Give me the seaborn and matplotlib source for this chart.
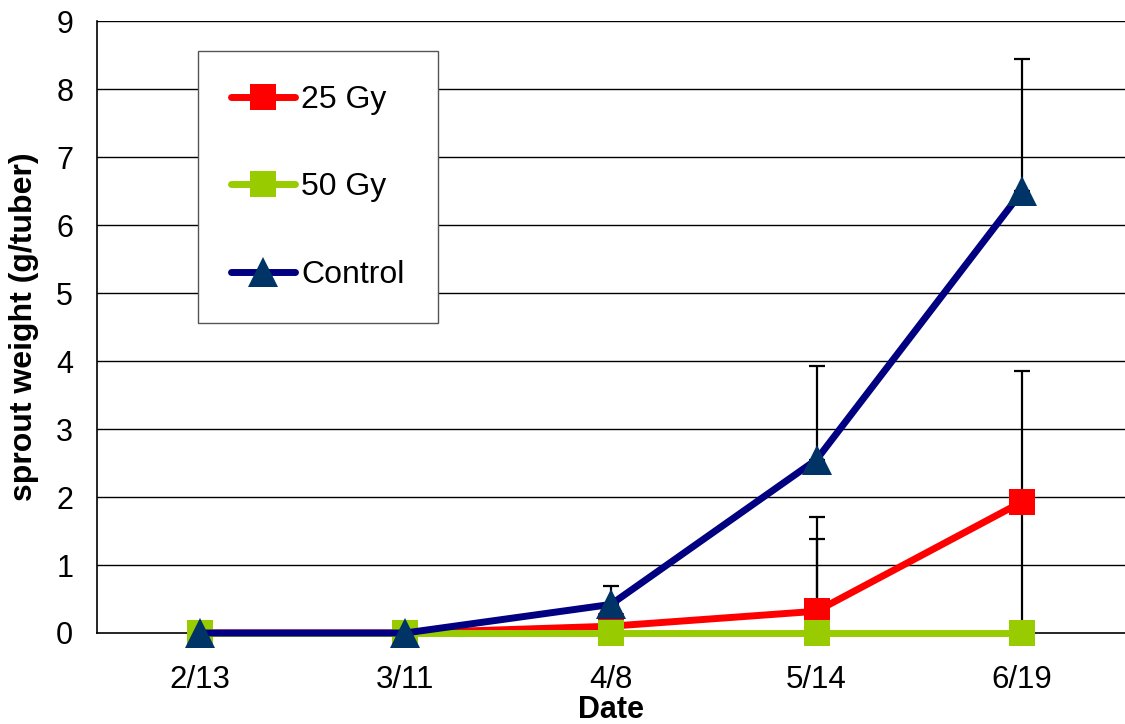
import numpy as np
import pandas as pd
import matplotlib
matplotlib.use('Agg')
import matplotlib.pyplot as plt
import seaborn as sns

dates = ['2/13', '3/11', '4/8', '5/14', '6/19']
gy25 = [0, 0, 0.1, 0.32, 1.93]
gy50 = [0, 0, 0, 0, 0]
control = [0, 0, 0.42, 2.55, 6.5]
# upward error bars only
gy25_err = [0, 0, 0, 1.38, 1.93]
gy50_err = [0, 0, 0, 1.38, 1.93]
control_err = [0, 0, 0.27, 1.38, 1.94]

sns.set_style('white')
plt.rcParams['font.family'] = ['Liberation Sans', 'DejaVu Sans']
plt.rcParams['text.color'] = 'black'
plt.rcParams['xtick.color'] = 'black'
plt.rcParams['ytick.color'] = 'black'
plt.rcParams['axes.labelcolor'] = 'black'

x = np.arange(len(dates))
df = pd.DataFrame({'x': x, 'g25': gy25, 'g50': gy50, 'ctl': control})

fig = plt.figure(figsize=(11.25, 7.24), dpi=100)
ax = fig.add_axes([0.086, 0.1257, 0.914, 0.845])

for yy in range(1, 10):
    ax.axhline(yy, color='black', lw=1, zorder=1)

for vals, err in [(gy50, gy50_err), (gy25, gy25_err), (control, control_err)]:
    ax.errorbar(x, vals, yerr=[np.zeros(5), err], fmt='none', ecolor='black',
                elinewidth=1.6, capsize=6, capthick=1.6, zorder=2)

sns.lineplot(data=df, x='x', y='g25', ax=ax, color='#FF0000', lw=5, marker='s',
             markersize=19, markeredgewidth=0, label='25 Gy', zorder=3, clip_on=False)
sns.lineplot(data=df, x='x', y='g50', ax=ax, color='#99CC00', lw=5, marker='s',
             markersize=19, markeredgewidth=0, label='50 Gy', zorder=4, clip_on=False)
sns.lineplot(data=df, x='x', y='ctl', ax=ax, color='#000080', lw=5, marker='^',
             markersize=21, markerfacecolor='#003366', markeredgewidth=0,
             label='Control', zorder=6, clip_on=False)

ax.set_xlim(-0.5, 4.5)
ax.set_ylim(0, 9)
ax.set_yticks(range(10))
ax.set_xticks(x, dates)
ax.set_xticks(np.arange(-0.5, 5, 1), minor=True)
ax.tick_params(axis='x', which='major', length=0, pad=23, labelsize=22.5)
ax.tick_params(axis='x', which='minor', length=6, color='gray', width=1.2, direction='out')
ax.tick_params(axis='y', length=7, color='gray', width=1.2, direction='out', labelsize=22, pad=10)

for s in ['top', 'right']:
    ax.spines[s].set_visible(False)
for s in ['left', 'bottom']:
    ax.spines[s].set_color('black')
    ax.spines[s].set_linewidth(1.2)

ax.set_xlabel('Date', fontsize=22, fontweight='bold', labelpad=0)
ax.set_ylabel('sprout weight (g/tuber)', fontsize=23, fontweight='bold', labelpad=12)

leg = ax.legend(loc='upper left', bbox_to_anchor=(0.098, 0.951), fontsize=23,
                frameon=True, fancybox=False, edgecolor='#555555', framealpha=1,
                labelspacing=1.8, handlelength=2.0, handletextpad=0.2,
                borderpad=1.05, borderaxespad=0)
leg.get_frame().set_linewidth(1)
leg.set_zorder(10)

fig.savefig('out.png', dpi=100)
